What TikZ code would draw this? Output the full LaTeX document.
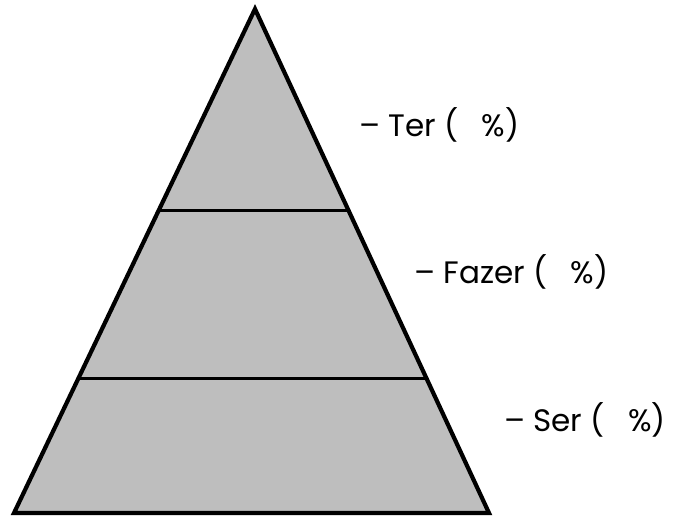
\documentclass[tikz,border=0pt]{standalone}
\usepackage{fontspec}
\setmainfont{Poppins}
\usetikzlibrary{calc}
\definecolor{pyrfill}{RGB}{190,190,190}
\tikzset{
  lbl/.style={anchor=west, inner sep=0pt, font=\fontsize{31}{35}\selectfont},
  edge/.style={line width=4.2pt, line join=miter}
}
\begin{document}
\begin{tikzpicture}[x=1pt,y=-1pt]
\useasboundingbox (0,0) rectangle (680,517);
\coordinate (top) at (255,9);
\coordinate (bl) at (14,513);
\coordinate (br) at (489,513);
\coordinate (l1) at ($(top)!0.400!(bl)$);
\coordinate (r1) at ($(top)!0.400!(br)$);
\coordinate (l2) at ($(top)!0.733!(bl)$);
\coordinate (r2) at ($(top)!0.733!(br)$);
\fill[pyrfill] (top) -- (bl) -- (br) -- cycle;
\draw[edge, line width=3.6pt] (l1) -- (r1);
\draw[edge, line width=3.6pt] (l2) -- (r2);
\draw[edge] (top) -- (bl) -- (br) -- cycle;
\node[lbl] (ter) at (359,125) {– Ter (\hspace{0.75em}\%)};
\node[lbl] (fazer) at (414,272) {– Fazer (\hspace{0.75em}\%)};
\node[lbl] (ser) at (504,420) {– Ser (\hspace{0.75em}\%)};
\end{tikzpicture}
\end{document}
